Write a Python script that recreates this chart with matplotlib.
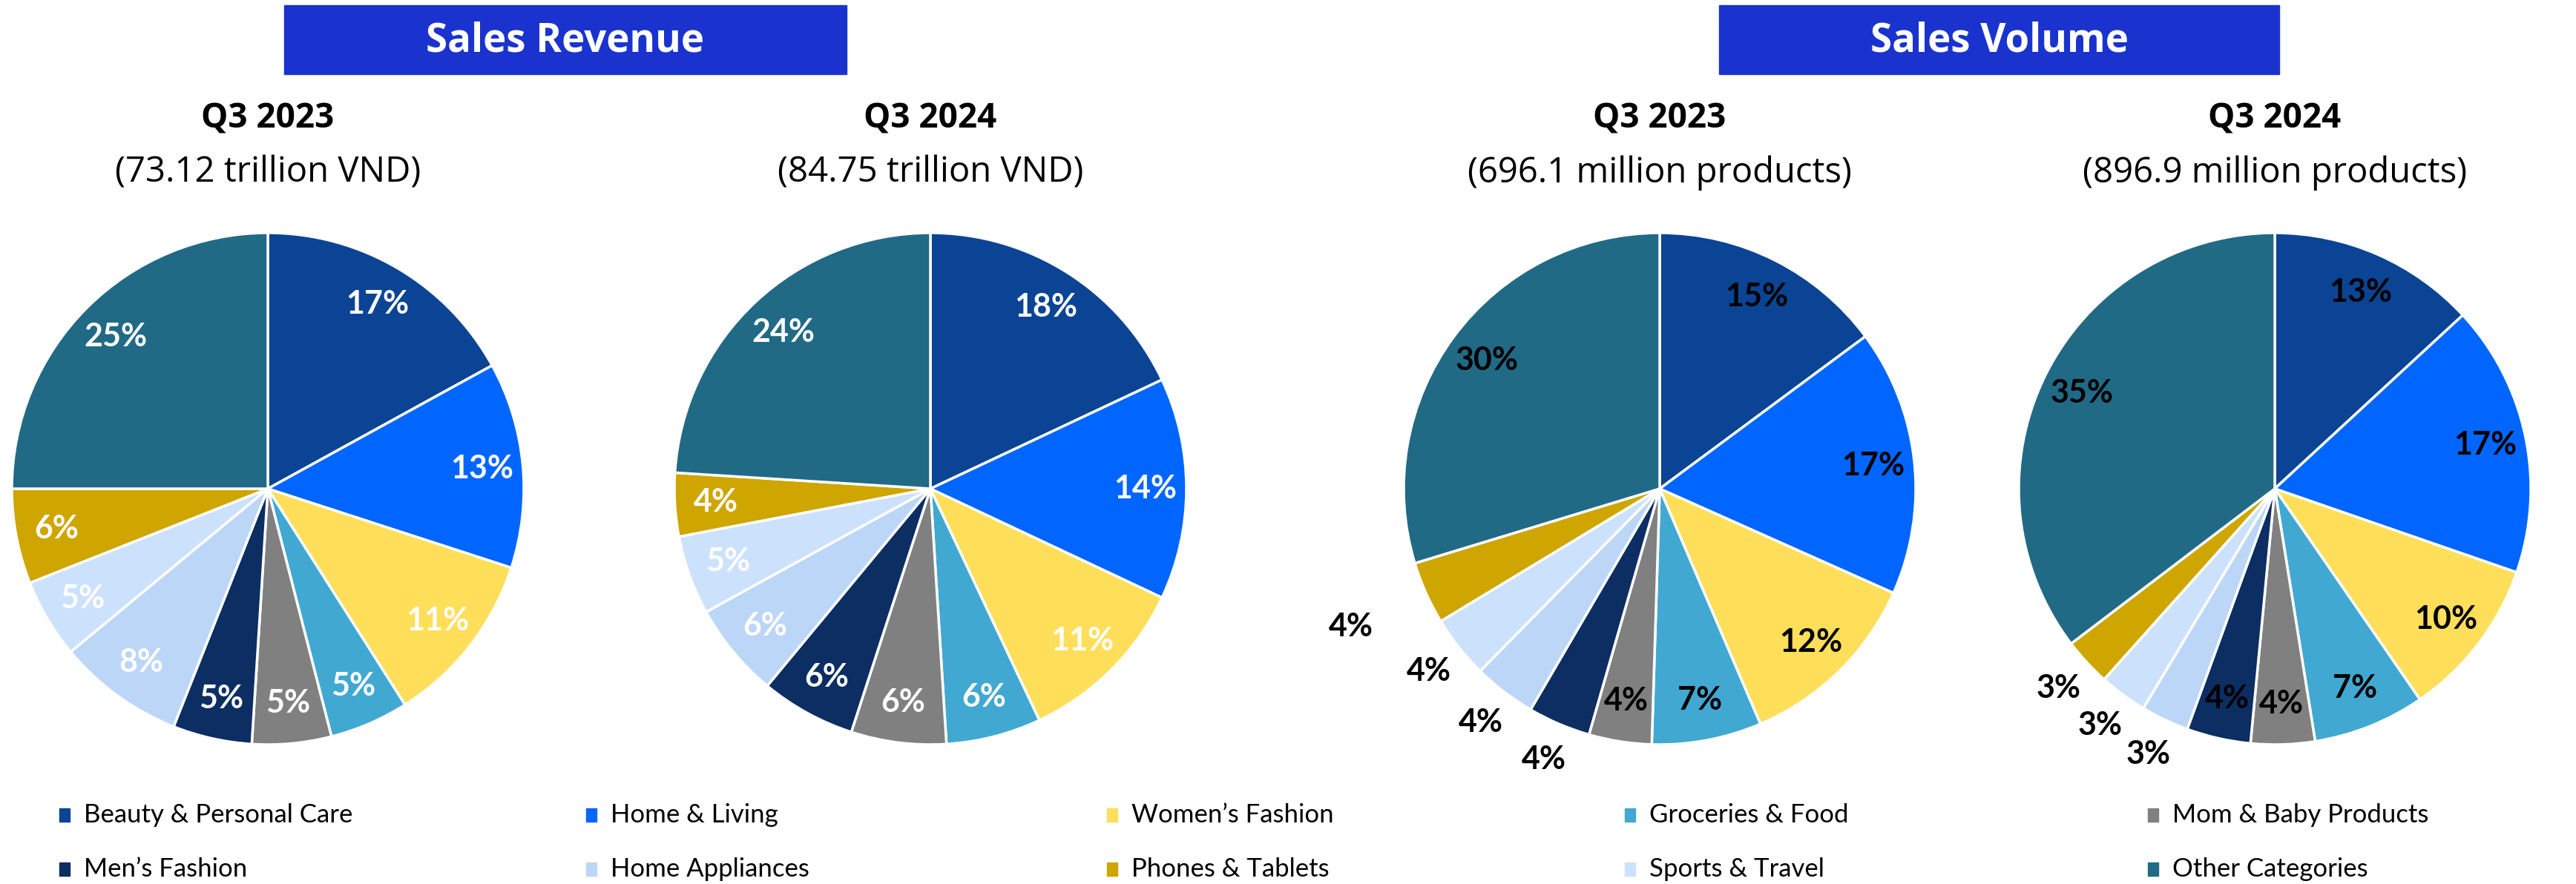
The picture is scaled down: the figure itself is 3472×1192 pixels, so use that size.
import numpy as np
import matplotlib.pyplot as plt
from matplotlib.patches import Rectangle

W, H = 3473, 1192

categories = ['Beauty & Personal Care', 'Home & Living', 'Women\u2019s Fashion', 'Groceries & Food',
              'Mom & Baby Products', 'Men\u2019s Fashion', 'Home Appliances', 'Sports & Travel',
              'Phones & Tablets', 'Other Categories']
colors = ['#0B4494', '#0066FF', '#FFDE59', '#41A9D1', '#808080',
          '#0C2E62', '#BBD6F7', '#CCE1FC', '#CFA500', '#216A86']

rev_2023 = [17, 13, 11, 5, 5, 5, 8, 5, 6, 25]
rev_2024 = [18, 14, 11, 6, 6, 6, 6, 5, 4, 24]
vol_2023 = [15, 17, 12, 7, 4, 4, 4, 4, 4, 30]
vol_2024 = [13, 17, 10, 7, 4, 4, 3, 3, 3, 35]

titles = ['Q3 2023', 'Q3 2024', 'Q3 2023', 'Q3 2024']
subtitles = ['(73.12 trillion VND)', '(84.75 trillion VND)',
             '(696.1 million products)', '(896.9 million products)']
headers = ['Sales Revenue', 'Sales Volume']

# legend order as shown (row by row)
legend_order = [0, 1, 2, 3, 4, 5, 6, 8, 7, 9]

fig = plt.figure(figsize=(W / 100, H / 100), dpi=100)

# pixel layout
centers_x = [361, 1254, 2237, 3066]
center_y = 659
radius = 345
span = 1.5

# label distances (fraction of radius); labels outside for thin slices in volume pies
dist_default = 0.84
outside = [{}, {}, {5: 1.15, 6: 1.15, 7: 1.15, 8: 1.32}, {6: 1.15, 7: 1.15, 8: 1.15}]
label_colors = ['white', 'white', 'black', 'black']

data = [rev_2023, rev_2024, vol_2023, vol_2024]

for k, vals in enumerate(data):
    R = radius * span
    ax = fig.add_axes([(centers_x[k] - R) / W, 1 - (center_y + R) / H, 2 * R / W, 2 * R / H])
    wedges, _ = ax.pie(vals, colors=colors, startangle=90, counterclock=False, radius=1,
                       wedgeprops=dict(edgecolor='white', linewidth=2.5))
    ax.set_xlim(-span, span)
    ax.set_ylim(-span, span)
    ax.set_aspect('equal')
    ax.axis('off')
    total = sum(vals)
    for i, w in enumerate(wedges):
        mid = np.deg2rad((w.theta1 + w.theta2) / 2)
        d = outside[k].get(i, dist_default)
        col = 'black' if i in outside[k] else label_colors[k]
        ax.text(d * np.cos(mid), d * np.sin(mid), f'{round(vals[i] / total * 100)}%',
                ha='center', va='center', fontsize=31, fontweight='bold', color=col,
                family='Lato')

    fig.text(centers_x[k] / W, 1 - 160 / H, titles[k], ha='center', va='center',
             fontsize=33, fontweight='bold', family='Open Sans')
    fig.text(centers_x[k] / W, 1 - 233 / H, subtitles[k], ha='center', va='center',
             fontsize=34, family='Open Sans')

# header boxes
boxes = [(383, 1141), (2317, 3072)]
for (x0, x1), txt in zip(boxes, headers):
    fig.patches.append(Rectangle((x0 / W, 1 - 100 / H), (x1 - x0) / W, 93 / H,
                                 transform=fig.transFigure, color='#1A33CF'))
    fig.text((x0 + x1) / 2 / W, 1 - 56 / H, txt, ha='center', va='center',
             fontsize=38, fontweight='bold', color='white', family='Open Sans')

# legend
col_x = [80, 790, 1492, 2190, 2895]
row_y = [1099, 1172]
for n, idx in enumerate(legend_order):
    r, c = divmod(n, 5)
    x, y = col_x[c], row_y[r]
    fig.patches.append(Rectangle((x / W, 1 - (y + 9) / H), 14 / W, 18 / H,
                                 transform=fig.transFigure, color=colors[idx]))
    fig.text((x + 33) / W, 1 - y / H, categories[idx], ha='left', va='center',
             fontsize=25, family='Lato')

fig.savefig('out.png', dpi=100)
